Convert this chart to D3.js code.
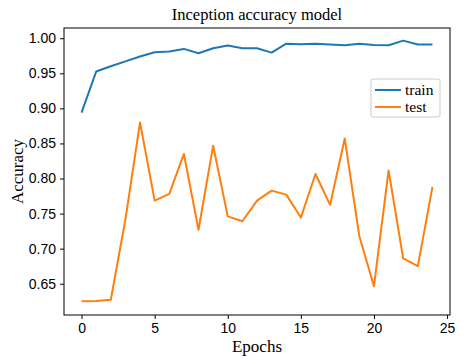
<!DOCTYPE html>
<html>
<head>
<meta charset="utf-8">
<script src="https://cdn.jsdelivr.net/npm/d3@7"></script>
<style>
  body { margin: 0; background: #fff; }
  svg { display: block; font-family: "Liberation Serif", "DejaVu Serif", serif; }
  .tick text { font-size: 14px; fill: #000; }
</style>
</head>
<body>
<div id="chart-area"><svg></svg></div>
<script>
const epochs = d3.range(0, 25);
const trainAcc = [0.894, 0.9525, 0.960, 0.967, 0.974, 0.980, 0.981, 0.9848, 0.9787, 0.9858,
  0.9895, 0.9858, 0.9858, 0.9795, 0.9923, 0.9913, 0.992, 0.991, 0.990, 0.992,
  0.9905, 0.990, 0.9966, 0.991, 0.991];
const testAcc = [0.625, 0.6255, 0.6272, 0.7415, 0.880, 0.7685, 0.778, 0.835, 0.727, 0.8468,
  0.746, 0.739, 0.7685, 0.7827, 0.777, 0.7443, 0.8065, 0.7624, 0.857, 0.7177,
  0.6465, 0.8116, 0.686, 0.675, 0.788];
const xTicks = [0, 5, 10, 15, 20, 25];
const yTicks = [0.65, 0.70, 0.75, 0.80, 0.85, 0.90, 0.95, 1.00];
const seriesNames = ['train', 'test'];
const colors = ['#1f77b4', '#ff7f0e'];

const chartSize = { width: 468, height: 359 };
const margin = { left: 64, right: 18, top: 28, bottom: 44 };
const width = chartSize.width - margin.left - margin.right;
const height = chartSize.height - margin.top - margin.bottom;

const svg = d3.select('#chart-area svg')
    .attr('width', chartSize.width)
    .attr('height', chartSize.height);

const g = svg.append('g')
    .attr('transform', `translate(${margin.left},${margin.top})`);

const x = d3.scaleLinear().domain([-1.2, 25.2]).range([0, width]);
const y = d3.scaleLinear().domain([0.6054, 1.0146]).range([height, 0]);

const line = d3.line()
    .x((d, i) => x(epochs[i]))
    .y(d => y(d));

[trainAcc, testAcc].forEach((series, k) => {
    g.append('path')
        .datum(series)
        .attr('fill', 'none')
        .attr('stroke', colors[k])
        .attr('stroke-width', 2)
        .attr('stroke-linejoin', 'round')
        .attr('d', line);
});

const xAxis = d3.axisBottom(x).tickValues(xTicks).tickFormat(d3.format('d')).tickSize(4).tickPadding(4);
const yAxis = d3.axisLeft(y).tickValues(yTicks).tickFormat(d3.format('.2f')).tickSize(4).tickPadding(4);

g.append('g')
    .attr('transform', `translate(0,${height})`)
    .call(xAxis)
    .call(a => a.select('.domain').remove());
g.append('g')
    .call(yAxis)
    .call(a => a.select('.domain').remove());

g.selectAll('.tick text').attr('font-family', null);
g.selectAll('.tick line').attr('stroke', '#000');

g.append('rect')
    .attr('width', width)
    .attr('height', height)
    .attr('fill', 'none')
    .attr('stroke', '#000')
    .attr('stroke-width', 1);

svg.append('text')
    .attr('x', margin.left + width / 2)
    .attr('y', 20)
    .attr('text-anchor', 'middle')
    .attr('font-size', 16.5)
    .text('Inception accuracy model');

svg.append('text')
    .attr('x', margin.left + width / 2)
    .attr('y', 352)
    .attr('text-anchor', 'middle')
    .attr('font-size', 17)
    .text('Epochs');

svg.append('text')
    .attr('transform', `translate(23,${margin.top + height / 2}) rotate(-90)`)
    .attr('text-anchor', 'middle')
    .attr('font-size', 17)
    .text('Accuracy');

const legend = svg.append('g').attr('transform', 'translate(371,79)');
legend.append('rect')
    .attr('width', 69)
    .attr('height', 38)
    .attr('rx', 2)
    .attr('fill', '#fff')
    .attr('stroke', '#ccc');
seriesNames.forEach((name, k) => {
    const row = legend.append('g').attr('transform', `translate(0,${11 + k * 17})`);
    row.append('line')
        .attr('x1', 4).attr('x2', 30)
        .attr('stroke', colors[k]).attr('stroke-width', 2);
    row.append('text')
        .attr('x', 34)
        .attr('y', 5)
        .attr('font-size', 15.5)
        .text(name);
});
</script>
</body>
</html>
